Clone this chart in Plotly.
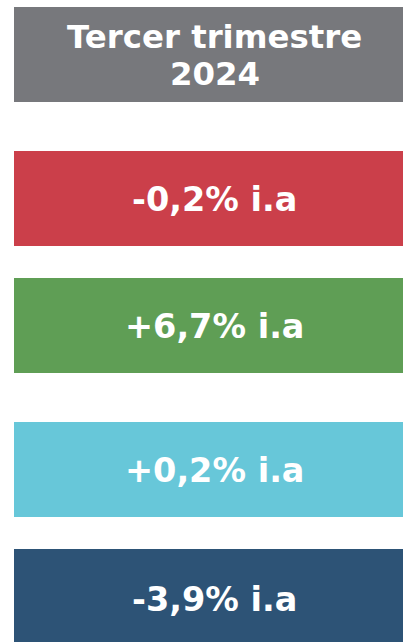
import plotly.graph_objects as go

title_lines = ["Tercer trimestre", "2024"]
labels = ["-0,2% i.a", "+6,7% i.a", "+0,2% i.a", "-3,9% i.a"]
colors = ["#cb3f4a", "#5f9e55", "#67c7d9", "#2d5376"]
title_color = "#77787c"

# box vertical extents (pixels from top)
title_box = (7, 102)
boxes = [(151, 246), (278, 373), (422, 517), (549, 644)]
X0, X1 = 14, 415
TEXT_X = 214.5

fig = go.Figure()
fig.add_trace(go.Scatter(x=[0], y=[0], mode="markers", marker=dict(opacity=0), hoverinfo="skip", showlegend=False))

shapes = [dict(type="rect", xref="x", yref="y", x0=X0, x1=X1, y0=title_box[0], y1=title_box[1],
               fillcolor=title_color, line=dict(width=0), layer="below")]
for (y0, y1), c in zip(boxes, colors):
    shapes.append(dict(type="rect", xref="x", yref="y", x0=X0, x1=X1, y0=y0, y1=y1,
                       fillcolor=c, line=dict(width=0), layer="below"))

annotations = []
for t, yc in zip(title_lines, [37, 74]):
    annotations.append(dict(x=TEXT_X, y=yc, xref="x", yref="y", text=f"<b>{t}</b>",
                            showarrow=False, font=dict(family="DejaVu Sans", size=32.4, color="white"),
                            xanchor="center", yanchor="middle"))
for (y0, y1), t in zip(boxes, labels):
    yc = (y0 + y1) / 2 + 1 if y1 < 640 else 599
    annotations.append(dict(x=TEXT_X, y=yc, xref="x", yref="y", text=f"<b>{t}</b>",
                            showarrow=False, font=dict(family="DejaVu Sans", size=33.5, color="white"),
                            xanchor="center", yanchor="middle"))

fig.update_layout(
    width=403, height=642,
    margin=dict(l=0, r=0, t=0, b=0),
    paper_bgcolor="white", plot_bgcolor="white",
    xaxis=dict(range=[0, 403], visible=False, fixedrange=True),
    yaxis=dict(range=[642, 0], visible=False, fixedrange=True),
    shapes=shapes, annotations=annotations, showlegend=False,
)
fig.write_html("out.html", config={"displayModeBar": False},
               post_script="document.body.style.margin='0';document.body.style.overflow='hidden';")
